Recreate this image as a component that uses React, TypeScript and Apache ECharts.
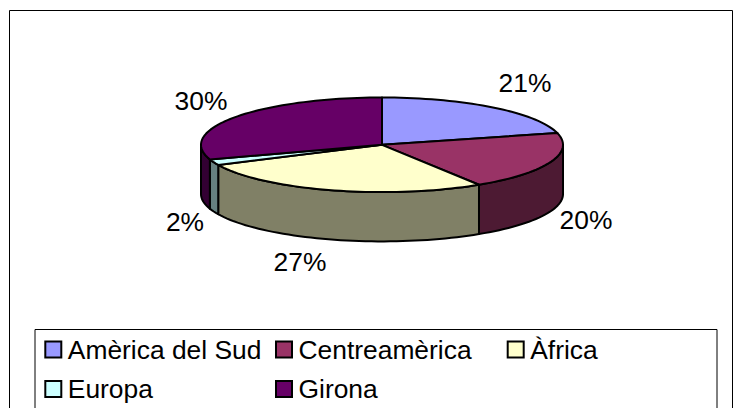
import React, { useEffect, useRef } from "react";
import * as echarts from "echarts";

const categories = ["Amèrica del Sud", "Centreamèrica", "Àfrica", "Europa", "Girona"];
const shares = [21, 20, 27, 2, 30];
const topColors = ["#9999ff", "#993366", "#ffffcc", "#ccffff", "#660066"];
const sideColors = ["#4d4d80", "#4d1a33", "#808066", "#668080", "#330033"];
const labelAnchors = [[525, 82.5], [586, 220], [300, 262], [185, 222], [201, 100.5]];
const legendColumns = [
  { left: 44.3, names: ["Amèrica del Sud", "Europa"] },
  { left: 275, names: ["Centreamèrica", "Girona"] },
  { left: 506.7, names: ["Àfrica"] },
];

const CX = 382;
const CY = 144.8;
const RX = 181;
const RY = 47.3;
const DEPTH = 49.3;
const FONT = "Liberation Sans";
const FONT_SIZE = 26.4;

const total = shares.reduce((a, b) => a + b, 0);
const pt = (deg: number, dy = 0): number[] => {
  const r = (deg * Math.PI) / 180;
  return [CX + RX * Math.sin(r), CY - RY * Math.cos(r) + dy];
};
const arc = (a: number, b: number, dy = 0): number[][] => {
  const n = Math.max(2, Math.ceil(Math.abs(b - a) / 2));
  const out: number[][] = [];
  for (let i = 0; i <= n; i++) out.push(pt(a + ((b - a) * i) / n, dy));
  return out;
};

const renderSlice = (index: number) => (_params: any, api: any) => {
  const value = api.value(0);
  let before = 0;
  for (let i = 0; i < index; i++) before += shares[i];
  const a = (before / total) * 360;
  const b = a + (value / total) * 360;
  const children: any[] = [];
  const sa = Math.max(a, 90);
  const sb = Math.min(b, 270);
  const style = { stroke: "#000", lineWidth: 2, lineJoin: "round" };
  if (sb > sa) {
    children.push({
      type: "polygon",
      shape: { points: [...arc(sa, sb), ...arc(sb, sa, DEPTH)] },
      style: { ...style, fill: sideColors[index] },
    });
  }
  children.push({
    type: "polygon",
    shape: { points: [[CX, CY], ...arc(a, b)] },
    style: { ...style, fill: topColors[index] },
  });
  children.push({
    type: "text",
    x: labelAnchors[index][0],
    y: labelAnchors[index][1],
    style: {
      text: `${value}%`,
      fill: "#000",
      font: `${FONT_SIZE}px "${FONT}"`,
      align: "center",
      verticalAlign: "middle",
    },
  });
  return { type: "group", children };
};

export default function App() {
  const ref = useRef<HTMLDivElement>(null);
  useEffect(() => {
    document.body.style.margin = "0";
    const chart = echarts.init(ref.current!, null, { renderer: "svg" });
    chart.setOption({
      animation: false,
      backgroundColor: "#fff",
      legend: legendColumns.map((c) => ({
        left: c.left,
        top: 336.5,
        orient: "vertical",
        padding: 0,
        itemGap: 13.5,
        itemWidth: 16,
        itemHeight: 16,
        icon: "rect",
        selectedMode: false,
        data: c.names,
        itemStyle: { borderColor: "#000", borderWidth: 2 },
        textStyle: { fontFamily: FONT, fontSize: FONT_SIZE, lineHeight: 26, color: "#000", padding: [0, 0, 0, 1.5] },
      })),
      graphic: [
        { type: "rect", shape: { x: 9.5, y: 10.5, width: 723, height: 420 }, style: { fill: "none", stroke: "#000", lineWidth: 1 } },
        { type: "rect", shape: { x: 35, y: 329.5, width: 682, height: 100 }, style: { fill: "none", stroke: "#000", lineWidth: 1 } },
      ],
      series: categories.map((name, i) => ({
        type: "custom",
        name,
        coordinateSystem: "none",
        silent: true,
        itemStyle: { color: topColors[i] },
        data: [[shares[i]]],
        renderItem: renderSlice(i),
      })),
    });
    return () => chart.dispose();
  }, []);
  return <div ref={ref} style={{ width: 743, height: 408 }} />;
}
